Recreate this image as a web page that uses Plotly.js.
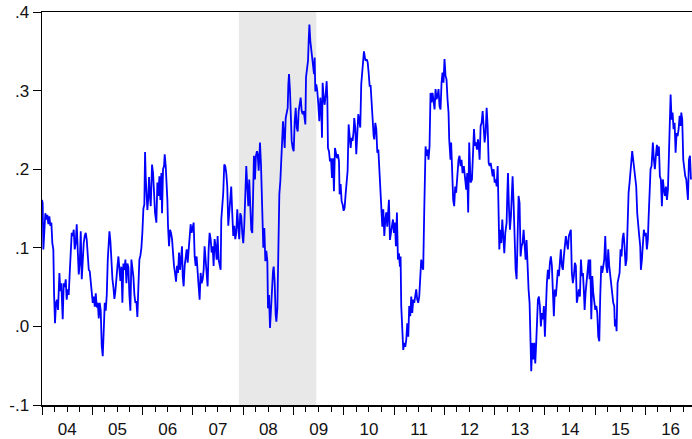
<!DOCTYPE html>
<html>
<head>
<meta charset="utf-8">
<script src="https://cdn.plot.ly/plotly-3.0.1.min.js"></script>
<style>
html,body{margin:0;padding:0;background:#fff;overflow:hidden;}
#chart{width:692px;height:439px;}
</style>
</head>
<body>
<div id="chart"></div>
<script>
// decimal-year dates of observations
const years = [
2004.000,2004.013,2004.027,2004.046,2004.066,2004.086,2004.106,2004.126,2004.146,2004.166,2004.186,2004.205,2004.225,2004.239,2004.258,2004.278,2004.298,2004.318,2004.345,2004.364,2004.384,2004.398,2004.411,2004.431,2004.451,2004.471,2004.490,2004.510,2004.530,2004.550,2004.570,2004.590,2004.610,2004.630,2004.649,2004.669,2004.689,2004.709,2004.729,2004.749,2004.769,2004.789,2004.808,2004.828,2004.848,2004.868,2004.888,2004.908,2004.928,2004.948,2004.968,2004.987,
2005.007,2005.027,2005.047,2005.067,2005.087,2005.107,2005.127,2005.146,2005.166,2005.186,2005.206,2005.226,2005.246,2005.266,2005.286,2005.306,2005.326,2005.339,2005.359,2005.379,2005.399,2005.418,2005.438,2005.458,2005.478,2005.498,2005.518,2005.538,2005.557,2005.577,2005.597,2005.617,2005.637,2005.657,2005.677,2005.697,2005.717,2005.736,2005.756,2005.776,2005.796,2005.816,2005.836,2005.856,2005.876,2005.895,2005.915,2005.935,2005.955,2005.975,2005.995,
2006.015,2006.034,2006.048,2006.061,2006.074,2006.094,2006.114,2006.127,2006.141,2006.161,2006.187,2006.207,2006.227,2006.247,2006.273,2006.293,2006.313,2006.333,2006.353,2006.373,2006.386,2006.406,2006.426,2006.439,2006.459,2006.479,2006.492,2006.505,2006.525,2006.545,2006.565,2006.585,2006.605,2006.624,2006.644,2006.664,2006.684,2006.704,2006.724,2006.744,2006.763,2006.783,2006.797,2006.816,2006.836,2006.856,2006.876,2006.896,2006.916,2006.935,2006.955,2006.975,2006.995,
2007.015,2007.035,2007.055,2007.074,2007.094,2007.114,2007.134,2007.154,2007.174,2007.194,2007.214,2007.233,2007.253,2007.273,2007.293,2007.313,2007.333,2007.353,2007.373,2007.393,2007.412,2007.432,2007.452,2007.472,2007.492,2007.512,2007.532,2007.552,2007.565,2007.585,2007.604,2007.624,2007.644,2007.664,2007.684,2007.704,2007.724,2007.744,2007.763,2007.783,2007.803,2007.823,2007.843,2007.863,2007.883,2007.902,2007.922,2007.942,2007.962,2007.982,
2008.002,2008.022,2008.042,2008.062,2008.082,2008.102,2008.121,2008.141,2008.161,2008.181,2008.201,2008.214,2008.234,2008.254,2008.274,2008.288,2008.308,2008.321,2008.334,2008.354,2008.374,2008.387,2008.400,2008.420,2008.440,2008.460,2008.480,2008.493,2008.513,2008.533,2008.553,2008.573,2008.592,2008.606,2008.625,2008.645,2008.659,2008.679,2008.698,2008.718,2008.738,2008.758,2008.778,2008.791,2008.811,2008.824,2008.844,2008.864,2008.884,2008.897,2008.910,2008.930,2008.944,2008.963,2008.983,
2009.003,2009.023,2009.043,2009.063,2009.083,2009.102,2009.122,2009.142,2009.162,2009.182,2009.202,2009.222,2009.235,2009.248,2009.268,2009.288,2009.301,2009.315,2009.334,2009.354,2009.374,2009.394,2009.407,2009.420,2009.433,2009.453,2009.473,2009.493,2009.513,2009.533,2009.553,2009.566,2009.579,2009.599,2009.619,2009.639,2009.659,2009.672,2009.685,2009.705,2009.725,2009.745,2009.765,2009.785,2009.804,2009.824,2009.844,2009.864,2009.884,2009.904,2009.917,2009.937,2009.957,2009.977,2009.997,
2010.016,2010.036,2010.056,2010.076,2010.096,2010.116,2010.136,2010.155,2010.175,2010.195,2010.208,2010.228,2010.248,2010.268,2010.288,2010.308,2010.328,2010.347,2010.367,2010.387,2010.401,2010.420,2010.435,2010.455,2010.475,2010.494,2010.514,2010.534,2010.554,2010.574,2010.594,2010.607,2010.627,2010.647,2010.667,2010.687,2010.706,2010.726,2010.746,2010.766,2010.786,2010.806,2010.826,2010.845,2010.865,2010.885,2010.898,2010.918,2010.938,2010.958,2010.978,2010.998,
2011.018,2011.037,2011.057,2011.077,2011.097,2011.117,2011.130,2011.143,2011.163,2011.183,2011.203,2011.223,2011.243,2011.263,2011.283,2011.302,2011.322,2011.342,2011.362,2011.382,2011.402,2011.422,2011.441,2011.461,2011.481,2011.501,2011.521,2011.541,2011.561,2011.580,2011.600,2011.614,2011.627,2011.647,2011.667,2011.686,2011.706,2011.726,2011.746,2011.766,2011.786,2011.806,2011.826,2011.845,2011.865,2011.885,2011.905,2011.925,2011.945,2011.964,2011.984,
2012.004,2012.024,2012.044,2012.064,2012.084,2012.097,2012.110,2012.123,2012.136,2012.156,2012.176,2012.196,2012.216,2012.235,2012.255,2012.282,2012.302,2012.322,2012.342,2012.362,2012.388,2012.415,2012.435,2012.455,2012.474,2012.494,2012.521,2012.549,2012.569,2012.589,2012.608,2012.628,2012.648,2012.668,2012.688,2012.701,2012.721,2012.741,2012.761,2012.780,2012.800,2012.820,2012.840,2012.860,2012.880,2012.900,2012.920,2012.939,2012.959,2012.979,2012.999,
2013.019,2013.039,2013.059,2013.078,2013.092,2013.111,2013.131,2013.151,2013.171,2013.191,2013.211,2013.237,2013.250,2013.264,2013.283,2013.303,2013.323,2013.343,2013.356,2013.376,2013.396,2013.416,2013.436,2013.456,2013.475,2013.495,2013.515,2013.535,2013.555,2013.575,2013.595,2013.615,2013.634,2013.654,2013.674,2013.694,2013.714,2013.727,2013.747,2013.767,2013.787,2013.807,2013.826,2013.846,2013.860,2013.879,2013.899,2013.919,2013.939,2013.959,2013.979,2013.999,
2014.018,2014.038,2014.058,2014.078,2014.098,2014.118,2014.138,2014.158,2014.177,2014.197,2014.217,2014.237,2014.257,2014.277,2014.297,2014.316,2014.336,2014.356,2014.376,2014.396,2014.416,2014.436,2014.456,2014.476,2014.495,2014.515,2014.535,2014.555,2014.575,2014.595,2014.615,2014.634,2014.654,2014.674,2014.696,2014.716,2014.736,2014.756,2014.776,2014.789,2014.809,2014.829,2014.849,2014.869,2014.888,2014.902,2014.922,2014.942,2014.961,2014.981,
2015.001,2015.021,2015.041,2015.061,2015.081,2015.100,2015.120,2015.140,2015.160,2015.180,2015.200,2015.220,2015.240,2015.259,2015.279,2015.299,2015.319,2015.339,2015.359,2015.379,2015.392,2015.412,2015.425,2015.445,2015.465,2015.485,2015.504,2015.524,2015.544,2015.564,2015.584,2015.604,2015.624,2015.644,2015.664,2015.684,2015.703,2015.723,2015.736,2015.756,2015.776,2015.796,2015.816,2015.836,2015.856,2015.876,2015.896,2015.909,2015.929,2015.948,2015.968,2015.988,
2016.008,2016.028,2016.048,2016.061,2016.081,2016.101,2016.121,2016.134,2016.147,2016.167,2016.187,2016.207,2016.227,2016.247,2016.267,2016.286,2016.306,2016.326,2016.346,2016.366,2016.386,2016.406,2016.426,2016.446,2016.465,2016.485,2016.499,2016.518,2016.538,2016.558,2016.578,2016.598,2016.618,2016.638,2016.658,2016.678,2016.697,2016.711,2016.730,2016.750,2016.770,2016.790,2016.810,2016.830,2016.843,2016.863,2016.883,2016.903
];
// series values
const values = [
.161,.157,.098,.128,.144,.136,.142,.130,.140,.128,.132,.106,.098,.043,.004,.030,.034,.021,.068,.045,.055,.030,.009,.055,.050,.060,.034,.047,.040,.068,.095,.119,.115,.123,.098,.106,.130,.090,.066,.080,.121,.060,.090,.106,.115,.119,.110,.095,.072,.070,.055,.043,
.030,.038,.025,.042,.024,.030,.010,.030,.020,-.025,-.038,-.005,.030,.020,.040,.085,.115,.121,.108,.070,.060,.050,.035,.045,.068,.076,.089,.065,.058,.076,.030,.080,.072,.085,.055,.080,.075,.040,.020,.085,.072,.063,.040,.030,.032,.012,.050,.085,.090,.100,.120,
.150,.155,.222,.190,.165,.148,.165,.190,.170,.153,.206,.195,.170,.144,.132,.183,.166,.191,.161,.195,.144,.200,.204,.219,.204,.183,.161,.128,.102,.123,.119,.111,.089,.077,.068,.057,.077,.068,.094,.072,.085,.102,.064,.051,.077,.089,.098,.081,.102,.111,.130,.119,.128,
.132,.089,.077,.089,.064,.051,.034,.068,.055,.060,.072,.102,.085,.060,.051,.098,.119,.111,.094,.102,.077,.111,.102,.085,.115,.085,.077,.072,.136,.153,.170,.206,.204,.195,.178,.128,.149,.161,.178,.144,.115,.128,.111,.119,.149,.128,.111,.144,.140,.119,
.106,.128,.161,.204,.178,.153,.187,.149,.123,.119,.161,.217,.187,.217,.223,.219,.198,.227,.234,.206,.151,.125,.100,.125,.083,.096,.083,.023,.040,-.002,.023,.057,.070,.076,.057,.015,.006,.023,.100,.168,.185,.210,.244,.261,.240,.227,.265,.274,.278,.308,.321,.299,.270,.236,.227,
.223,.261,.278,.253,.248,.274,.287,.291,.274,.270,.274,.261,.257,.317,.329,.338,.363,.384,.363,.350,.342,.329,.321,.342,.299,.308,.299,.282,.261,.291,.274,.240,.310,.291,.282,.295,.312,.291,.227,.223,.210,.214,.189,.214,.172,.227,.219,.214,.219,.210,.168,.181,.159,.155,.147,
.151,.168,.181,.198,.257,.244,.227,.240,.236,.248,.265,.253,.219,.244,.270,.261,.253,.308,.325,.338,.350,.342,.338,.340,.336,.323,.306,.306,.280,.263,.242,.238,.259,.251,.221,.225,.204,.183,.153,.127,.149,.115,.136,.145,.127,.145,.161,.110,.119,.127,.136,.119,
.132,.102,.145,.085,.093,.076,.089,.026,-.017,-.030,-.021,-.026,-.017,.004,-.013,.026,.013,.038,.017,.034,.030,.038,.047,.034,.030,.038,.068,.085,.076,.072,.145,.187,.229,.217,.225,.212,.229,.297,.285,.297,.289,.276,.302,.289,.293,.302,.280,.276,.310,.323,.310,
.340,.319,.314,.289,.272,.238,.221,.212,.234,.191,.161,.153,.178,.170,.195,.212,.217,.204,.212,.195,.204,.187,.174,.195,.145,.234,.183,.187,.212,.251,.230,.234,.225,.238,.225,.212,.255,.259,.274,.255,.234,.246,.278,.255,.208,.204,.208,.200,.191,.200,.183,
.187,.178,.204,.132,.098,.123,.106,.136,.110,.093,.119,.132,.166,.195,.153,.123,.140,.166,.191,.157,.098,.072,.060,.115,.166,.157,.089,.102,.106,.123,.093,.085,.110,.068,.047,.030,-.030,-.057,-.021,-.042,-.021,-.047,-.021,.013,.034,.038,.026,.000,.017,.009,.026,-.013,
.030,.055,.072,.060,.081,.089,.077,.030,.013,.047,.038,.055,.072,.064,.077,.098,.077,.072,.089,.106,.115,.106,.098,.115,.119,.123,.068,.055,.064,.081,.077,.030,.038,.047,.038,.085,.064,.068,.043,.021,.043,.060,.077,.085,.060,.085,.009,.064,.043,.034,
.021,.026,.017,-.013,-.019,.038,.077,.068,.077,.085,.115,.077,.068,.098,.077,.064,.060,.043,.030,.026,.000,.009,-.006,.055,.064,.068,.098,.089,.111,.119,.102,.077,.085,.144,.170,.183,.195,.212,.223,.212,.200,.187,.178,.144,.123,.115,.102,.072,.085,.111,.123,.115,
.119,.098,.111,.136,.178,.200,.204,.217,.234,.212,.200,.217,.231,.217,.229,.191,.187,.153,.187,.174,.166,.178,.161,.174,.229,.276,.295,.263,.272,.251,.259,.221,.246,.242,.251,.268,.255,.272,.263,.212,.200,.191,.187,.174,.161,.212,.217,.187
];
// recession period (shaded)
const recessionStart = '2007-12-01';
const recessionEnd = '2009-06-15';
// y tick labels
const yTickVals = [-0.1, 0, 0.1, 0.2, 0.3, 0.4];
const yTickText = ['-.1', '.0', '.1', '.2', '.3', '.4'];

function toDate(y) {
  const yr = Math.floor(y);
  const s = Date.UTC(yr, 0, 1), e = Date.UTC(yr + 1, 0, 1);
  return new Date(s + (y - yr) * (e - s)).toISOString().slice(0, 19);
}
const dates = years.map(toDate);

const font = {family: 'Liberation Sans, Arial, sans-serif', size: 17, color: '#111'};

Plotly.newPlot('chart', [{
  x: dates, y: values, type: 'scatter', mode: 'lines',
  line: {color: '#0000FF', width: 1.8},
  hoverinfo: 'skip'
}], {
  width: 692, height: 439,
  margin: {l: 42, r: 0, t: 12, b: 34},
  paper_bgcolor: '#fff', plot_bgcolor: '#fff',
  showlegend: false,
  font: font,
  xaxis: {
    type: 'date',
    range: ['2004-01-01', '2016-12-04'],
    tick0: '2004-01-01', dtick: 'M12',
    ticklabelmode: 'period', tickformat: '%y',
    ticks: 'outside', ticklen: 8, tickwidth: 1, tickcolor: '#000',
    minor: {dtick: 'M3', ticks: 'outside', ticklen: 5, tickwidth: 1, tickcolor: '#000', showgrid: false},
    showgrid: false, zeroline: false,
    showline: true, linecolor: '#000', linewidth: 1.5, mirror: true,
    tickfont: font
  },
  yaxis: {
    range: [-0.1, 0.4],
    tickmode: 'array', tickvals: yTickVals, ticktext: yTickText,
    ticks: 'outside', ticklen: 8, tickwidth: 1, tickcolor: '#000',
    showgrid: false, zeroline: false,
    showline: true, linecolor: '#000', linewidth: 1.5, mirror: true,
    tickfont: font
  },
  shapes: [{
    type: 'rect', xref: 'x', yref: 'paper',
    x0: recessionStart, x1: recessionEnd, y0: 0, y1: 1,
    fillcolor: '#e8e8e8', line: {width: 0}, layer: 'below'
  }]
}, {staticPlot: true});
</script>
</body>
</html>
